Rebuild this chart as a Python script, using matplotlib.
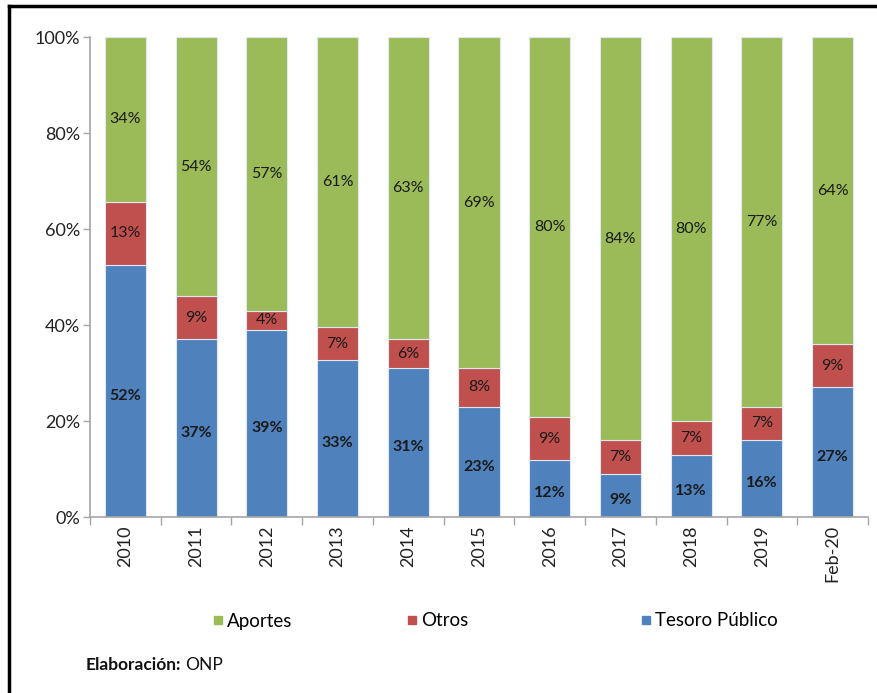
import matplotlib.pyplot as plt
import numpy as np
from matplotlib.lines import Line2D
from matplotlib.ticker import PercentFormatter, FixedLocator

plt.rcParams['font.family'] = ['Lato', 'DejaVu Sans']

# data (percent of total)
categories = ['2010', '2011', '2012', '2013', '2014', '2015',
              '2016', '2017', '2018', '2019', 'Feb-20']
tesoro = [52, 37, 39, 33, 31, 23, 12, 9, 13, 16, 27]
otros = [13, 9, 4, 7, 6, 8, 9, 7, 7, 7, 9]
aportes = [34, 54, 57, 61, 63, 69, 80, 84, 80, 77, 64]

c_blue = '#4F81BD'
c_red = '#C0504D'
c_green = '#9BBB59'

t = np.array(tesoro, dtype=float)
o = np.array(otros, dtype=float)
a = np.array(aportes, dtype=float)
tot = t + o + a
# 100% stacked: normalise each column
tn, on, an = t / tot * 100, o / tot * 100, a / tot * 100

fig = plt.figure(figsize=(8.77, 6.93), dpi=100)
ax = fig.add_axes([90 / 877, 1 - 517 / 693, 778 / 877, 480 / 693])

x = np.arange(len(categories))
w = 0.58
edge = dict(edgecolor='#DDE8F2', linewidth=0.8)
ax.bar(x, tn, w, color=c_blue, **edge)
ax.bar(x, on, w, bottom=tn, color=c_red, **edge)
ax.bar(x, an, w, bottom=tn + on, color=c_green, **edge)

for i in range(len(x)):
    ax.text(x[i], tn[i] / 2 - 1, f'{tesoro[i]}%', ha='center', va='center',
            fontsize=11.5, fontweight='bold', color='#1a1a1a')
    ax.text(x[i], tn[i] + on[i] / 2, f'{otros[i]}%', ha='center', va='center',
            fontsize=11.5, color='#1a1a1a')
    ax.text(x[i], tn[i] + on[i] + an[i] / 2, f'{aportes[i]}%', ha='center',
            va='center', fontsize=11.5, color='#1a1a1a')

ax.set_xlim(-0.5, len(x) - 0.5)
ax.set_ylim(0, 100)
ax.set_yticks([0, 20, 40, 60, 80, 100])
ax.yaxis.set_major_formatter(PercentFormatter(decimals=0))
ax.set_xticks(x)
ax.set_xticklabels(categories, rotation=90)
ax.xaxis.set_minor_locator(FixedLocator(np.arange(-0.5, len(x), 1)))
ax.tick_params(axis='x', which='major', length=0, pad=6, labelsize=13,
               labelcolor='#222222')
ax.tick_params(axis='x', which='minor', length=6, color='#A6A6A6', width=1)
ax.tick_params(axis='y', length=5, color='#A6A6A6', width=1, labelsize=13,
               labelcolor='#222222', pad=2)
for s in ['top', 'right']:
    ax.spines[s].set_visible(False)
for s in ['left', 'bottom']:
    ax.spines[s].set_color('#A6A6A6')
    ax.spines[s].set_linewidth(1.2)

# legend, spread out like the original
series = [('Aportes', c_green, 201), ('Otros', c_red, 395), ('Tesoro Público', c_blue, 629)]
for name, col, px in series:
    h = Line2D([], [], marker='s', linestyle='none', color=col, markersize=6)
    fig.legend(handles=[h], labels=[name], loc='center left',
               bbox_to_anchor=(px / 877, 1 - 621 / 693), frameon=False,
               fontsize=13.5, handletextpad=0.1, handlelength=0.8, borderpad=0)

# source note
t1 = fig.text(86 / 877, 1 - 665 / 693, 'Elaboración:', fontsize=12.5,
              fontweight='bold', va='center', ha='left', color='#111111')
fig.canvas.draw()
bb = t1.get_window_extent()
fig.text((bb.x1 + 4) / 877, 1 - 665 / 693, 'ONP', fontsize=12.5,
         va='center', ha='left', color='#111111')

# outer frame (left and top edges)
fig.add_artist(Line2D([9 / 877, 9 / 877], [0, 1 - 6 / 693], color='black',
                      linewidth=2.5, transform=fig.transFigure))
fig.add_artist(Line2D([9 / 877, 1], [1 - 6 / 693, 1 - 6 / 693], color='black',
                      linewidth=2.5, transform=fig.transFigure))

fig.savefig('out.png', dpi=100, facecolor='white')
